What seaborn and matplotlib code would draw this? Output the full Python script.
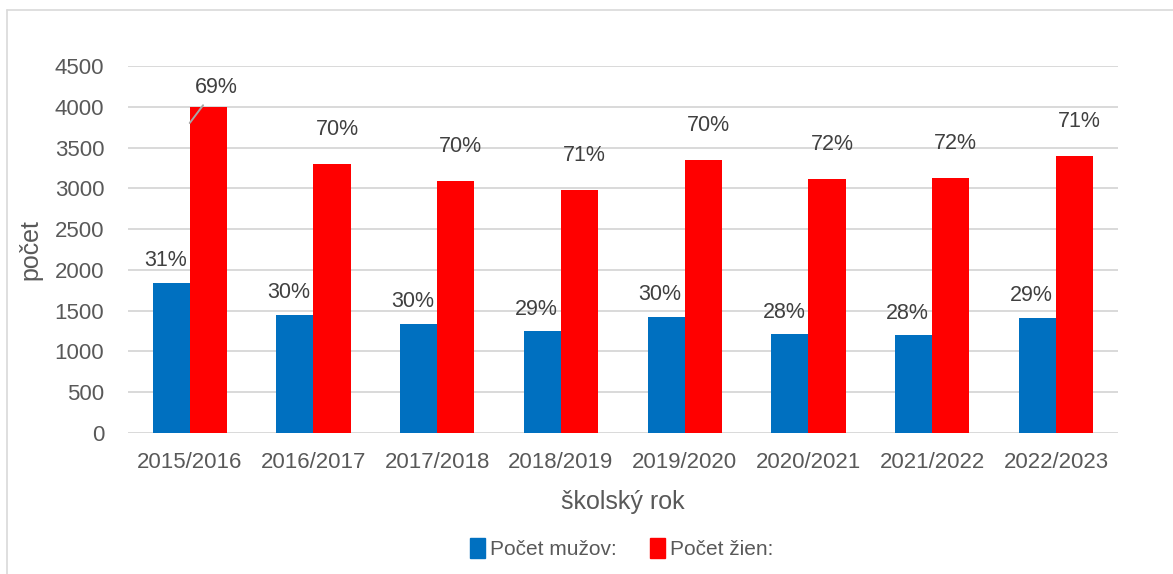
import pandas as pd
import numpy as np
import matplotlib
matplotlib.use("Agg")
import matplotlib.pyplot as plt
import seaborn as sns
from matplotlib.lines import Line2D

# data
roky = ["2015/2016", "2016/2017", "2017/2018", "2018/2019",
        "2019/2020", "2020/2021", "2021/2022", "2022/2023"]
muzi = [1845, 1449, 1339, 1245, 1428, 1213, 1196, 1413]
zeny = [4001, 3299, 3091, 2981, 3352, 3115, 3131, 3397]
muzi_pct = ["31%", "30%", "30%", "29%", "30%", "28%", "28%", "29%"]
zeny_pct = ["69%", "70%", "70%", "71%", "70%", "72%", "72%", "71%"]
serie = ["Počet mužov:", "Počet žien:"]
farby = ["#0070C0", "#FF0000"]

df = pd.DataFrame({
    "rok": roky * 2,
    "pocet": muzi + zeny,
    "serie": [serie[0]] * len(roky) + [serie[1]] * len(roky),
})

sns.set_style("white")
plt.rcParams["font.family"] = ["Liberation Sans", "DejaVu Sans"]

fig = plt.figure(figsize=(11.73, 5.74), dpi=100)
ax = fig.add_axes([0.109, 0.2456, 0.844, 0.6394])

sns.barplot(data=df, x="rok", y="pocet", hue="serie", hue_order=serie,
            palette=farby, width=0.6, saturation=1, errorbar=None, ax=ax,
            linewidth=0, zorder=3)
ax.get_legend().remove()

ax.set_ylim(0, 4500)
ax.set_xlim(-0.5, len(roky) - 0.5)
ax.set_yticks(np.arange(0, 4501, 500))
ax.yaxis.grid(True, color="#D9D9D9", linewidth=1.4, zorder=0)
ax.set_axisbelow(True)
for s in ax.spines.values():
    s.set_visible(False)
ax.tick_params(axis="both", length=0, labelsize=16, labelcolor="#595959")
ax.tick_params(axis="y", pad=17)
ax.tick_params(axis="x", pad=14)

ax.set_xlabel("školský rok", fontsize=18, color="#595959", labelpad=12)
ax.set_ylabel("počet", fontsize=18, color="#595959", labelpad=9)

# percentage labels
for cont, pcts, dx, dy in zip(ax.containers, [muzi_pct, zeny_pct], [-6, 5], [22, 34]):
    for bar, txt in zip(cont, pcts):
        ax.annotate(txt, (bar.get_x() + bar.get_width() / 2, bar.get_height()),
                    xytext=(dx, dy), textcoords="offset pixels",
                    ha="center", va="center", fontsize=15.5, color="#404040",
                    zorder=5)

# first label in the original sits right over the bar with a leader line
ax.texts[len(roky)].set_visible(False)
bar0 = ax.containers[1][0]
ax.annotate(zeny_pct[0], (bar0.get_x(), bar0.get_height() - 200),
            xytext=(27, 36), textcoords="offset pixels", ha="center",
            va="center", fontsize=15.5, color="#404040", zorder=6,
            arrowprops=dict(arrowstyle="-", color="#A6A6A6", lw=1.4,
                            shrinkA=4, shrinkB=0, zorder=6))

handles = [plt.Rectangle((0, 0), 1, 1, color=c) for c in farby]
fig.legend(handles, serie, loc="center", bbox_to_anchor=(0.53, 0.045),
           ncol=2, frameon=False, fontsize=15, handlelength=0.7,
           handleheight=1.1, handletextpad=0.25, columnspacing=1.6,
           labelcolor="#595959")

# thin chart-area border as in the original
fig.add_artist(Line2D([0.006, 1], [0.982, 0.982], color="#D9D9D9", lw=1.2,
                      transform=fig.transFigure))
fig.add_artist(Line2D([0.006, 0.006], [0, 0.982], color="#D9D9D9", lw=1.2,
                      transform=fig.transFigure))

fig.savefig("out.png", dpi=100)
